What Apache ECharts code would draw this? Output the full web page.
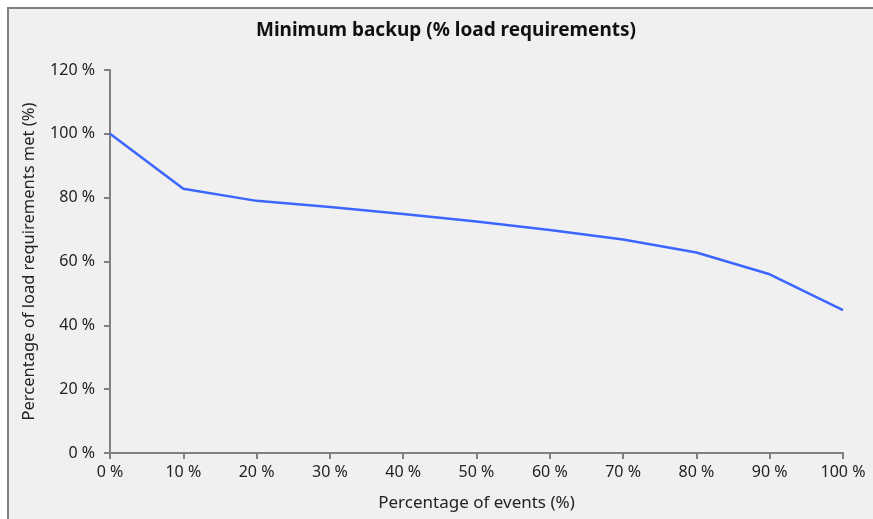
<!DOCTYPE html>
<html>
<head>
<meta charset="utf-8">
<title>Minimum backup</title>
<script src="https://cdn.jsdelivr.net/npm/echarts@6/dist/echarts.min.js"></script>
<style>
  html, body { margin: 0; padding: 0; background: #ffffff; }
  #frame {
    position: absolute;
    left: 7px;
    top: 7px;
    width: 864px;
    height: 510px;
    border-left: 2px solid #7f7f7f;
    border-top: 2px solid #7f7f7f;
    background: #f0f0f0;
  }
  #chart { width: 864px; height: 510px; }
</style>
</head>
<body>
<div id="frame"><div id="chart"></div></div>
<script>
// share of events (%) and share of load requirements met (%)
const eventPct = [0, 10, 20, 30, 40, 50, 60, 70, 80, 90, 100]
const loadMet = [100, 82.8, 79.0, 77.1, 74.9, 72.5, 69.9, 66.9, 62.8, 56.0, 44.8]

const seriesData = eventPct.map(function(x, i) {
  return [x, loadMet[i]]
})

const axisColor = '#808080'
const textColor = '#222'
const fontFamily = '"Noto Sans", sans-serif'

const myChart = echarts.init(document.getElementById('chart'))
const option = {
  animation: false,
  title: {
    text: 'Minimum backup (% load requirements)',
    left: 432,
    textAlign: 'center',
    top: 7,
    textStyle: {
      fontSize: 19,
      fontWeight: 'bold',
      color: '#111',
      fontFamily: fontFamily
    }
  },
  grid: {
    left: 101,
    right: 30,
    top: 61,
    bottom: 66
  },
  xAxis: {
    type: 'value',
    min: 0,
    max: 100,
    interval: 10,
    name: 'Percentage of events (%)',
    nameLocation: 'middle',
    nameGap: 42,
    nameTextStyle: { fontSize: 17, color: textColor, fontFamily: fontFamily },
    splitLine: { show: false },
    axisLine: { show: true, lineStyle: { color: axisColor, width: 2 } },
    axisTick: { show: true, length: 6, lineStyle: { color: axisColor, width: 2 } },
    axisLabel: {
      formatter: '{value} %',
      fontSize: 16,
      color: textColor,
      fontFamily: fontFamily,
      margin: 11
    }
  },
  yAxis: {
    type: 'value',
    min: 0,
    max: 120,
    interval: 20,
    name: 'Percentage of load requirements met (%)',
    nameLocation: 'middle',
    nameGap: 72,
    nameTextStyle: { fontSize: 16.5, color: textColor, fontFamily: fontFamily },
    splitLine: { show: false },
    axisLine: { show: true, lineStyle: { color: axisColor, width: 2 } },
    axisTick: { show: true, length: 6, lineStyle: { color: axisColor, width: 2 } },
    axisLabel: {
      formatter: '{value} %',
      fontSize: 16,
      color: textColor,
      fontFamily: fontFamily,
      margin: 15
    }
  },
  series: [
    {
      name: 'Minimum backup',
      type: 'line',
      data: seriesData,
      showSymbol: false,
      symbol: 'none',
      lineStyle: { color: '#3b66ff', width: 2.5 }
    }
  ]
}
myChart.setOption(option)
</script>
</body>
</html>
